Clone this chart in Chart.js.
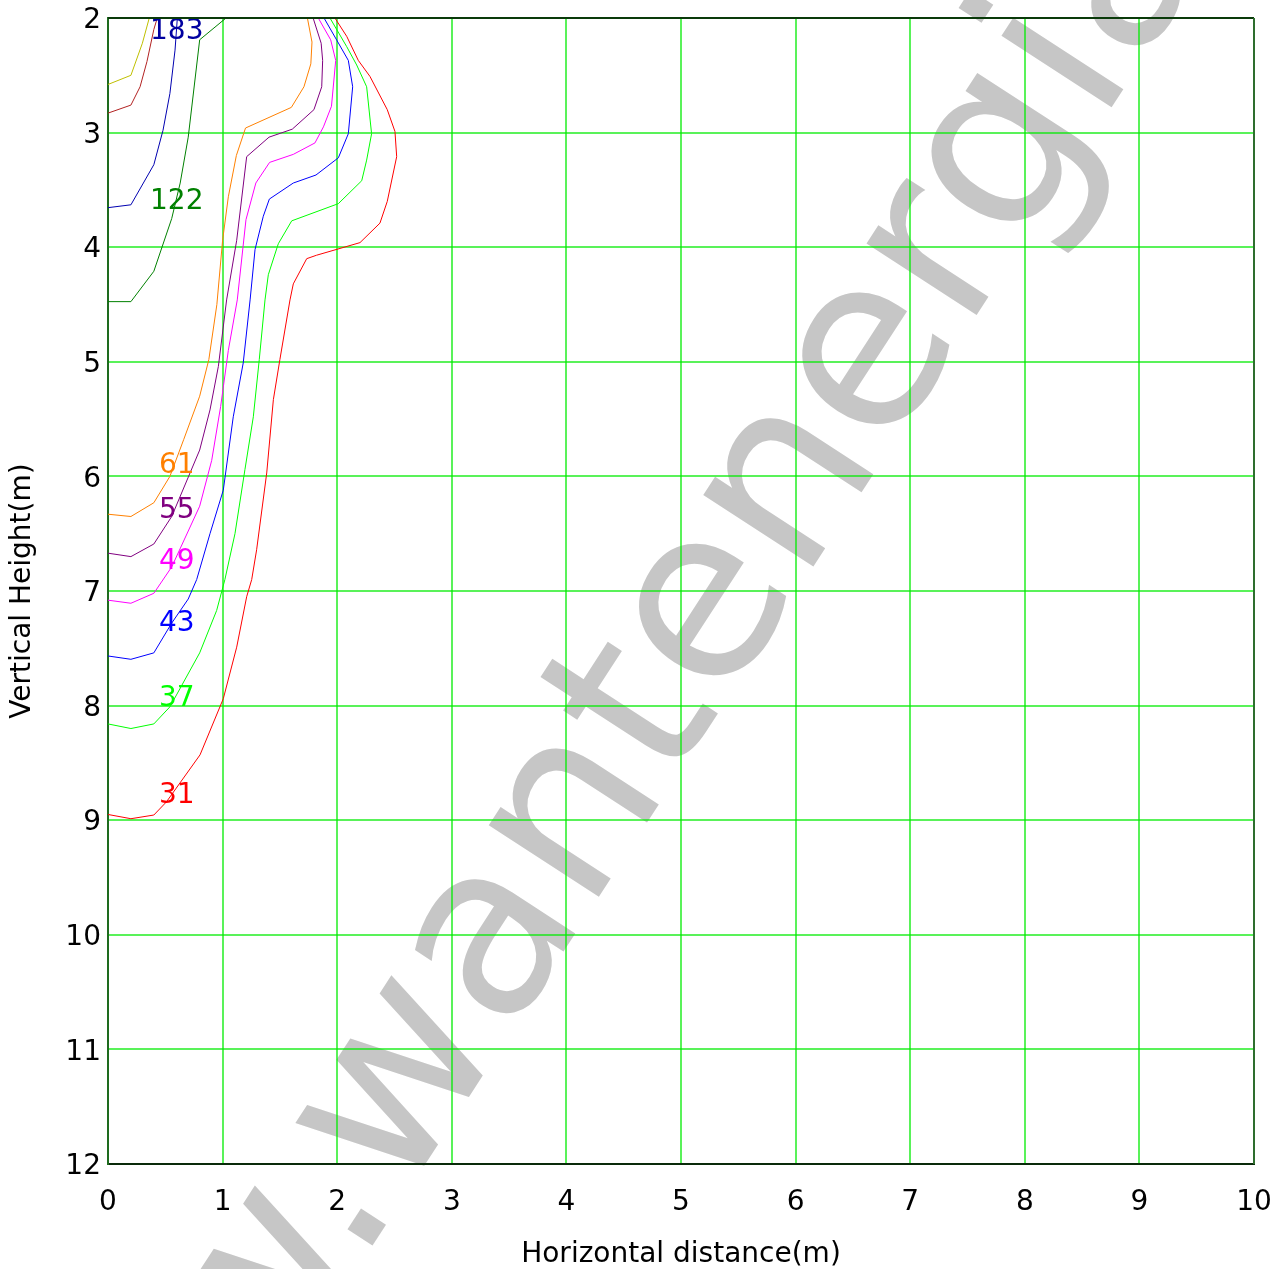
<!DOCTYPE html>
<html>
<head>
<meta charset="utf-8">
<title>Contours</title>
<script src="https://cdn.jsdelivr.net/npm/chart.js@4"></script>
<style>
  body { margin: 0; background: #fff; }
  canvas { display: block; }
</style>
</head>
<body>
<canvas id="myChart" width="1275" height="1269"></canvas>
<script>
// contour lines, x = horizontal distance (m), y = vertical height (m)
let c305X = [0, 0.2, 0.3, 0.36];
let c305Y = [2.58, 2.50, 2.22, 2.0];

let c244X = [0, 0.2, 0.28, 0.34, 0.40, 0.43];
let c244Y = [2.83, 2.76, 2.60, 2.38, 2.10, 2.0];

let c183X = [0, 0.2, 0.4, 0.48, 0.54, 0.585, 0.605];
let c183Y = [3.655, 3.63, 3.28, 2.98, 2.66, 2.28, 2.0];

let c122X = [0, 0.2, 0.4, 0.556, 0.63, 0.7, 0.8, 1.03];
let c122Y = [4.475, 4.475, 4.21, 3.75, 3.44, 3.04, 2.19, 2.0];

let c61X = [0, 0.2, 0.4, 0.54, 0.66, 0.8, 0.88, 0.95, 1.0, 1.05, 1.12, 1.2, 1.6, 1.71, 1.77, 1.78, 1.74];
let c61Y = [6.33, 6.35, 6.23, 6.0, 5.68, 5.3, 4.98, 4.5, 3.94, 3.56, 3.2, 2.96, 2.78, 2.6, 2.4, 2.21, 2.0];

let c55X = [0, 0.2, 0.4, 0.556, 0.8, 0.89, 0.963, 1.035, 1.123, 1.21, 1.405, 1.608, 1.797, 1.865, 1.873, 1.86, 1.79];
let c55Y = [6.67, 6.70, 6.59, 6.35, 5.77, 5.42, 5.04, 4.46, 3.94, 3.21, 3.04, 2.97, 2.80, 2.6, 2.37, 2.22, 2.0];

let c49X = [0, 0.2, 0.4, 0.556, 0.8, 0.905, 0.983, 1.05, 1.128, 1.204, 1.29, 1.41, 1.617, 1.806, 1.88, 1.95, 1.987, 1.943, 1.835];
let c49Y = [7.08, 7.107, 7.02, 6.79, 6.26, 5.86, 5.39, 4.9, 4.46, 3.76, 3.44, 3.26, 3.19, 3.09, 2.95, 2.77, 2.37, 2.19, 2.0];

let c43X = [0, 0.2, 0.4, 0.556, 0.70, 0.774, 0.89, 1.006, 1.093, 1.18, 1.24, 1.283, 1.355, 1.408, 1.617, 1.815, 2.01, 2.097, 2.135, 2.097, 2.0, 1.885];
let c43Y = [7.567, 7.596, 7.54, 7.28, 7.07, 6.90, 6.50, 6.12, 5.48, 5.01, 4.46, 4.02, 3.73, 3.58, 3.44, 3.37, 3.22, 3.01, 2.60, 2.37, 2.20, 2.0];

let c37X = [0, 0.2, 0.4, 0.541, 0.80, 0.948, 1.02, 1.108, 1.195, 1.268, 1.32, 1.37, 1.399, 1.486, 1.603, 2.01, 2.214, 2.257, 2.30, 2.257, 2.17, 2.083, 1.937];
let c37Y = [8.16, 8.20, 8.16, 8.01, 7.54, 7.17, 6.90, 6.50, 5.94, 5.48, 4.98, 4.46, 4.24, 3.97, 3.77, 3.62, 3.42, 3.24, 3.01, 2.60, 2.41, 2.25, 2.0];

let c31X = [0, 0.2, 0.4, 0.51, 0.803, 1.006, 1.123, 1.21, 1.254, 1.297, 1.385, 1.443, 1.50, 1.588, 1.617, 1.734, 1.82, 2.199, 2.373, 2.437, 2.519, 2.504, 2.437, 2.286, 2.184, 2.083, 1.98];
let c31Y = [8.95, 8.987, 8.955, 8.84, 8.43, 7.94, 7.49, 7.05, 6.90, 6.64, 5.97, 5.33, 4.98, 4.46, 4.32, 4.10, 4.07, 3.96, 3.79, 3.60, 3.21, 2.99, 2.80, 2.51, 2.37, 2.16, 2.0];

// contour labels
let labelText = ['183', '122', '61', '55', '49', '43', '37', '31'];
let labelX = [0.6, 0.6, 0.6, 0.6, 0.6, 0.6, 0.6, 0.6];
let labelY = [2.10, 3.59, 5.89, 6.28, 6.73, 7.27, 7.92, 8.77];
let labelColors = ['#0000a0', '#008000', '#ff8000', '#800080', '#ff00ff', '#0000ff', '#00ff00', '#ff0000'];

const FONT = '"DejaVu Sans", Verdana, sans-serif';

function line(xs, ys, color) {
    return {
        data: xs.map((x, i) => ({x: x, y: ys[i]})),
        borderColor: color,
        borderWidth: 1,
        showLine: true,
        pointRadius: 0,
        fill: false,
        tension: 0
    };
}

const watermark = {
    id: 'watermark',
    beforeDraw(chart) {
        let c = chart.ctx;
        c.save();
        c.translate(400, 1203);
        c.rotate(-57 * Math.PI / 180);
        c.font = '240px ' + FONT;
        c.fillStyle = '#c6c6c6';
        let pre = 'www.';
        c.fillText(pre + 'wantenergia.com', -c.measureText(pre).width, 0);
        c.restore();
    }
};

const contourLabels = {
    id: 'contourLabels',
    afterDatasetsDraw(chart) {
        let c = chart.ctx;
        let xs = chart.scales.x, ys = chart.scales.y;
        c.save();
        c.font = '28px ' + FONT;
        c.textAlign = 'center';
        c.textBaseline = 'middle';
        labelText.forEach((t, i) => {
            c.fillStyle = labelColors[i];
            c.fillText(t, xs.getPixelForValue(labelX[i]), ys.getPixelForValue(labelY[i]) + 2);
        });
        c.restore();
    }
};

const frame = {
    id: 'frame',
    afterDraw(chart) {
        let a = chart.chartArea;
        let c = chart.ctx;
        c.save();
        c.lineWidth = 2;
        c.strokeStyle = '#0a3a0a';
        c.beginPath();
        c.moveTo(a.left, a.top);
        c.lineTo(a.right, a.top);
        c.stroke();
        c.strokeStyle = '#2e6e2e';
        c.beginPath();
        c.moveTo(a.right, a.top);
        c.lineTo(a.right, a.bottom);
        c.stroke();
        c.restore();
    }
};

let gridStyle = {color: 'rgba(0, 235, 0, 0.65)', lineWidth: 2, drawTicks: false};

let ctx = document.getElementById('myChart');
let myChart = new Chart(ctx, {
    type: 'scatter',
    data: {
        datasets: [
            line(c305X, c305Y, '#bfbf00'),
            line(c244X, c244Y, '#b22222'),
            line(c183X, c183Y, '#0000b0'),
            line(c122X, c122Y, '#008000'),
            line(c61X, c61Y, '#ff8000'),
            line(c55X, c55Y, '#800080'),
            line(c49X, c49Y, '#ff00ff'),
            line(c43X, c43Y, '#0000ff'),
            line(c37X, c37Y, '#00ff00'),
            line(c31X, c31Y, '#ff0000')
        ]
    },
    options: {
        responsive: false,
        devicePixelRatio: 1,
        animation: false,
        layout: {padding: {top: 18, right: 21, left: 0, bottom: 0}},
        plugins: {
            legend: {display: false},
            tooltip: {enabled: false}
        },
        scales: {
            x: {
                type: 'linear',
                min: 0,
                max: 10,
                ticks: {stepSize: 1, color: '#000', font: {family: FONT, size: 28}, padding: 22, maxRotation: 0},
                grid: gridStyle,
                border: {color: '#0a2a0a', width: 2},
                title: {display: true, text: 'Horizontal distance(m)', color: '#000',
                        font: {family: FONT, size: 28, lineHeight: 1}, padding: {top: 0, bottom: 0}},
                afterFit(scale) {
                    scale.height = 105;
                    scale.paddingLeft = 0;
                    scale.paddingRight = 0;
                }
            },
            y: {
                type: 'linear',
                reverse: true,
                min: 2,
                max: 12,
                ticks: {stepSize: 1, color: '#000', font: {family: FONT, size: 28}, padding: 7, labelOffset: 3},
                grid: gridStyle,
                border: {color: '#1e6b1e', width: 2},
                title: {display: true, text: 'Vertical Height(m)', color: '#000',
                        font: {family: FONT, size: 28}, padding: {top: 6, bottom: 0}},
                afterFit(scale) {
                    scale.width = 108;
                    scale.paddingTop = 0;
                    scale.paddingBottom = 0;
                }
            }
        }
    },
    plugins: [watermark, contourLabels, frame]
});
</script>
</body>
</html>
